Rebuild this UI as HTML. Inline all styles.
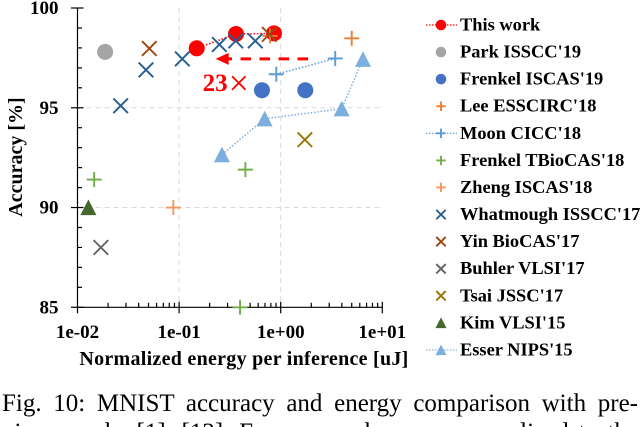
<!DOCTYPE html>
<html lang="en">
<head>
<meta charset="utf-8">
<title>MNIST accuracy and energy comparison</title>
<style>
html,body{margin:0;padding:0;background:#fff;width:640px;height:427px;overflow:hidden;}
body{font-family:"Liberation Serif",serif;}
#frame{position:absolute;left:0;top:0;width:640px;height:427px;overflow:hidden;background:#fff;}
#chart{position:absolute;left:0;top:0;}
#chart text{font-family:"Liberation Serif",serif;font-weight:bold;fill:#000;}
.cap{position:absolute;left:2px;width:636px;font-size:25px;line-height:29px;text-align:justify;text-align-last:justify;color:#000;white-space:nowrap;}
</style>
</head>
<body>
<div id="frame">
<svg id="chart" width="640" height="427" viewBox="0 0 640 427" xmlns="http://www.w3.org/2000/svg"></svg>
<div class="cap" style="top:388.6px">Fig. 10: MNIST accuracy and energy comparison with pre-</div>
<div class="cap" style="top:417.6px">vious works [1], [12]. Energy numbers are normalized to the</div>
</div>
<script>
const xTickValues = [0.01, 0.1, 1, 10];
const xTickLabels = ['1e-02', '1e-01', '1e+00', '1e+01'];
const yTickValues = [85, 90, 95, 100];
const yTickLabels = ['85', '90', '95', '100'];
const yMinorTicks = [86, 87, 88, 89, 91, 92, 93, 94, 96, 97, 98, 99];
const xMinorMultipliers = [2, 3, 4, 5, 6, 7, 8, 9];
const xGridValues = [0.1, 1];
const yGridValues = [90, 95];

const thisWorkEnergy = [0.149, 0.363, 0.859];
const thisWorkAccuracy = [97.98, 98.7, 98.73];
const parkEnergy = [0.0187];
const parkAccuracy = [97.8];
const frenkelIscasEnergy = [0.654, 1.746];
const frenkelIscasAccuracy = [95.88, 95.88];
const leeEnergy = [0.785, 5.0];
const leeAccuracy = [98.6, 98.48];
const moonEnergy = [0.905, 3.44];
const moonAccuracy = [96.68, 97.47];
const frenkelTbiocasEnergy = [0.0146, 0.449, 0.398];
const frenkelTbiocasAccuracy = [91.4, 91.9, 85];
const zhengEnergy = [0.0877];
const zhengAccuracy = [90];
const whatmoughEnergy = [0.0266, 0.0472, 0.1075, 0.249, 0.361, 0.562];
const whatmoughAccuracy = [95.1, 96.9, 97.45, 98.17, 98.35, 98.35];
const yinEnergy = [0.0509, 0.773];
const yinAccuracy = [97.97, 98.68];
const buhlerEnergy = [0.017];
const buhlerAccuracy = [88];
const tsaiEnergy = [1.73];
const tsaiAccuracy = [93.4];
const kimEnergy = [0.0128];
const kimAccuracy = [90];
const esserEnergy = [0.264, 0.695, 3.98, 6.46];
const esserAccuracy = [92.65, 94.45, 94.95, 97.43];

const arrowEnergy = [1.858, 0.229];
const arrowAccuracy = [97.45, 97.45];

const seriesNames = ['This work', "Park ISSCC'19", "Frenkel ISCAS'19", "Lee ESSCIRC'18", "Moon CICC'18", "Frenkel TBioCAS'18", "Zheng ISCAS'18", "Whatmough ISSCC'17", "Yin BioCAS'17", "Buhler VLSI'17", "Tsai JSSC'17", "Kim VLSI'15", "Esser NIPS'15"];
const seriesEnergy = [thisWorkEnergy, parkEnergy, frenkelIscasEnergy, leeEnergy, moonEnergy, frenkelTbiocasEnergy, zhengEnergy, whatmoughEnergy, yinEnergy, buhlerEnergy, tsaiEnergy, kimEnergy, esserEnergy];
const seriesAccuracy = [thisWorkAccuracy, parkAccuracy, frenkelIscasAccuracy, leeAccuracy, moonAccuracy, frenkelTbiocasAccuracy, zhengAccuracy, whatmoughAccuracy, yinAccuracy, buhlerAccuracy, tsaiAccuracy, kimAccuracy, esserAccuracy];
const seriesMarkers = ['circle', 'circle', 'circle', 'plus', 'plus', 'plus', 'plus', 'cross', 'cross', 'cross', 'cross', 'triangle', 'triangle'];
const seriesColors = ['#ff0000', '#a5a5a5', '#4472c4', '#ed7d31', '#5b9bd5', '#70ad47', '#f4965f', '#255e91', '#9e480e', '#636363', '#997300', '#43682b', '#7cafdd'];
const seriesLinked = [true, false, false, false, true, false, false, false, false, false, false, false, true];

const svg = document.getElementById('chart');
const NS = 'http://www.w3.org/2000/svg';
const plot = {left: 77.5, right: 382.3, top: 8, bottom: 307.3};

function xScale(v) {
  return plot.left + (Math.log10(v) + 2) / 3 * (plot.right - plot.left);
}
function yScale(v) {
  return plot.bottom - (v - 85) / 15 * (plot.bottom - plot.top);
}
function make(tag, attrs, parent) {
  const el = document.createElementNS(NS, tag);
  for (const k in attrs) el.setAttribute(k, attrs[k]);
  (parent || svg).appendChild(el);
  return el;
}
function slug(s) {
  return s.toLowerCase().replace(/[^a-z0-9]+/g, '-').replace(/-$/, '');
}
function drawLine(x1, y1, x2, y2, stroke, width, dash, name) {
  const el = make('line', {x1: x1, y1: y1, x2: x2, y2: y2, stroke: stroke, 'stroke-width': width});
  if (dash) el.setAttribute('stroke-dasharray', dash);
  
  
  return el;
}
function drawText(x, y, str, size, anchor, name) {
  const el = make('text', {x: x, y: y, 'font-size': size, 'text-anchor': anchor});
  el.textContent = str;
  
  
  return el;
}
function drawMarker(kind, cx, cy, color, size, name) {
  let el;
  if (kind === 'circle') {
    el = make('circle', {cx: cx, cy: cy, r: size, fill: color});
  } else if (kind === 'triangle') {
    const pts = [[cx, cy - size], [cx - size, cy + size * 0.95], [cx + size, cy + size * 0.95]];
    el = make('polygon', {points: pts.map(p => p.join(',')).join(' '), fill: color});
  } else if (kind === 'plus') {
    const d = `M${cx - size} ${cy}H${cx + size}M${cx} ${cy - size}V${cy + size}`;
    el = make('path', {d: d, stroke: color, 'stroke-width': 1.9, fill: 'none'});
  } else {
    const d = `M${cx - size} ${cy - size}L${cx + size} ${cy + size}M${cx - size} ${cy + size}L${cx + size} ${cy - size}`;
    el = make('path', {d: d, stroke: color, 'stroke-width': 1.9, fill: 'none'});
  }
  
  
  return el;
}

/* gridlines */
xGridValues.forEach(v => drawLine(xScale(v), plot.top, xScale(v), plot.bottom, '#d9d9d9', 1, '5 4', 'vertical-gridline'));
yGridValues.forEach(v => drawLine(plot.left, yScale(v), plot.right, yScale(v), '#d9d9d9', 1, '5 4', 'horizontal-gridline'));

/* axes */
drawLine(plot.left, plot.top, plot.left, plot.bottom, '#000', 1.2, null, 'y-axis-line');
drawLine(plot.left, plot.bottom, plot.right, plot.bottom, '#000', 1.2, null, 'x-axis-line');
yTickValues.forEach((v, i) => {
  drawLine(plot.left - 6.5, yScale(v), plot.left + 6, yScale(v), '#000', 1.2, null, 'y-major-tick');
  drawText(58.5, yScale(v) + 6, yTickLabels[i], 19, 'end', 'y-tick-label');
});
yMinorTicks.forEach(v => drawLine(plot.left, yScale(v), plot.left + 4.5, yScale(v), '#000', 1.2, null, 'y-minor-tick'));
xTickValues.forEach((v, i) => {
  drawLine(xScale(v), plot.bottom - (i ? 5.5 : 0), xScale(v), plot.bottom + 6, '#000', 1.2, null, 'x-major-tick');
  drawText(xScale(v), 338, xTickLabels[i], 19, 'middle', 'x-tick-label');
});
xTickValues.slice(0, 3).forEach(v => {
  xMinorMultipliers.forEach(m => drawLine(xScale(v * m), plot.bottom - 4.5, xScale(v * m), plot.bottom, '#000', 1.2, null, 'x-minor-tick'));
});
const xTitle = drawText(244, 365, 'Normalized energy per inference [uJ]', 20, 'middle', 'x-axis-title');
xTitle.setAttribute('letter-spacing', '0.28');
const yTitle = drawText(0, 0, 'Accuracy [%]', 20, 'middle', 'y-axis-title');
yTitle.setAttribute('transform', 'translate(22 157) rotate(-90)');

/* series */
seriesNames.forEach((name, i) => {
  const key = slug(name);
  const xs = seriesEnergy[i].map(xScale);
  const ys = seriesAccuracy[i].map(yScale);
  const kind = seriesMarkers[i];
  const color = seriesColors[i];
  if (seriesLinked[i]) {
    const line = make('polyline', {
      points: xs.map((x, j) => x + ',' + ys[j]).join(' '),
      fill: 'none', stroke: color, 'stroke-width': 1.5, 'stroke-dasharray': '1.5 1.8'
    });
    
    
  }
  const size = kind === 'circle' ? 8 : kind === 'triangle' ? 8 : 7.5;
  xs.forEach((x, j) => drawMarker(kind, x, ys[j], color, kind === 'cross' ? 7.3 : size, key + '-point'));
});

/* annotation */
const ax0 = xScale(arrowEnergy[0]);
const ax1 = xScale(arrowEnergy[1]);
const ay = yScale(arrowAccuracy[0]);
drawLine(ax0, ay, ax1 + 12, ay, '#ff0000', 3, '10.5 8.5', 'improvement-arrow-shaft');
const head = make('polygon', {points: `${ax1},${ay} ${ax1 + 13},${ay - 6} ${ax1 + 13},${ay + 6}`, fill: '#ff0000'});


const note = drawText(ax1 - 13, 91, '23', 25, 'start', 'improvement-label');
note.style.fill = '#ff0000';
const times = make('tspan', {dx: '1', dy: '4', 'font-size': 36, 'font-weight': 'normal'}, note);
times.textContent = '×';

/* legend */
const legendY0 = 25;
const legendStep = 27.08;
seriesNames.forEach((name, i) => {
  const key = slug(name);
  const y = legendY0 + i * legendStep;
  if (seriesLinked[i]) {
    drawLine(426, y, 457, y, seriesColors[i], 1.2, '1.5 1.5', 'legend-line-' + key);
  }
  const kind = seriesMarkers[i];
  const s = kind === 'circle' ? 5.3 : kind === 'triangle' ? 5.5 : 4.7;
  drawMarker(kind, 441, y, seriesColors[i], s, 'legend-marker-' + key);
  drawText(460, y + 5.5, name, 18.4, 'start', 'legend-entry-' + key);
});
</script>
</body>
</html>
